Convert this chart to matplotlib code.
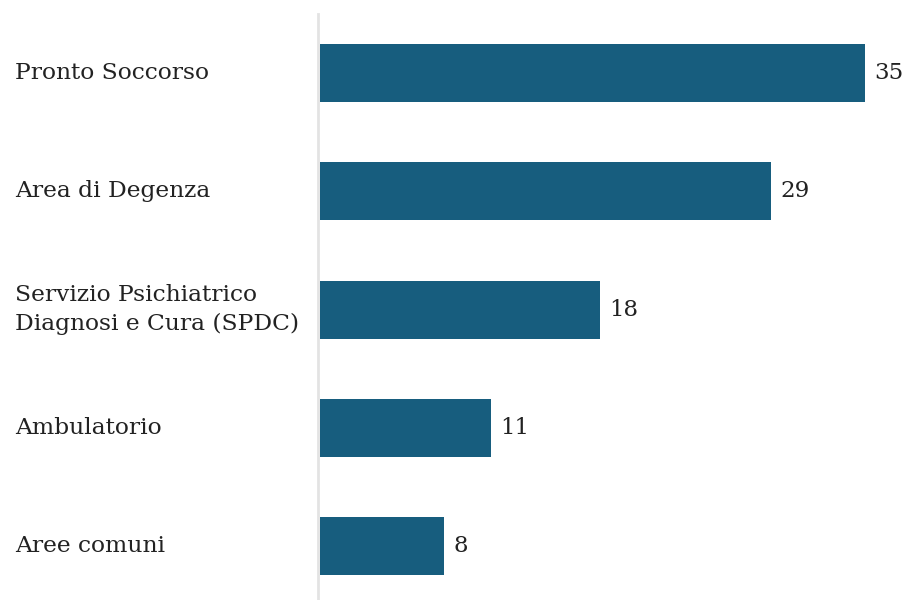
import matplotlib.pyplot as plt
from matplotlib.transforms import blended_transform_factory

# Categories and counts, top to bottom
categories = ["Pronto Soccorso", "Area di Degenza",
              "Servizio Psichiatrico\nDiagnosi e Cura (SPDC)",
              "Ambulatorio", "Aree comuni"]
values = [35, 29, 18, 11, 8]

bar_color = "#175d7e"
text_color = "#222222"

plt.rcParams['font.family'] = ['DejaVu Serif']

fig = plt.figure(figsize=(9.08, 6.0), dpi=100)
ax = fig.add_axes([318 / 908, 0.0, 1 - 318 / 908, 586 / 600])

pos = list(range(len(categories)))
ax.barh(pos, values, height=0.49, color=bar_color, left=0.1)

ax.set_xlim(0, 590 / 15.57)
ax.set_ylim(4.456, -0.5)

# value labels next to each bar
for p, v in zip(pos, values):
    ax.text(v + 0.7, p, str(v), va="center", ha="left",
            fontsize=16.5, color=text_color)

# category labels, left aligned at the figure edge
trans = blended_transform_factory(fig.transFigure, ax.transData)
for p, c in zip(pos, categories):
    ax.text(15 / 908, p, c, transform=trans, va="center", ha="left",
            fontsize=16.8, color=text_color, linespacing=1.45)

ax.set_xticks([])
ax.set_yticks([])
for s in ["top", "right", "bottom"]:
    ax.spines[s].set_visible(False)
ax.spines["left"].set_color("#e3e3e3")
ax.spines["left"].set_linewidth(2)

fig.savefig("out.png", dpi=100)
